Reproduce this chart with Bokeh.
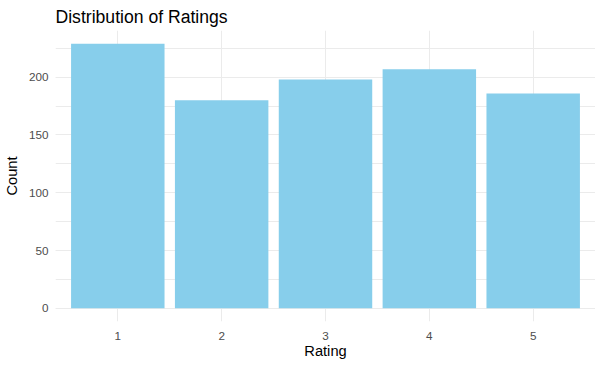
from bokeh.plotting import figure
from bokeh.models import Range1d, FixedTicker, SingleIntervalTicker, ColumnDataSource
from bokeh.embed import file_html
from bokeh.resources import INLINE

ratings = [1, 2, 3, 4, 5]
counts = [229, 180, 198, 207, 186]
tick_labels = {1: "1", 2: "2", 3: "3", 4: "4", 5: "5"}

FONT = "Liberation Sans"
source = ColumnDataSource(data=dict(rating=ratings, count=counts))

ymax = max(counts)
p = figure(width=595, height=361, output_backend="svg", toolbar_location=None,
           x_range=Range1d(0.4, 5.6), y_range=Range1d(-0.05 * ymax, ymax * 1.05),
           title="Distribution of Ratings",
           min_border_left=0, min_border_right=0, min_border_top=0, min_border_bottom=0)

p.vbar(x="rating", top="count", width=0.9, bottom=0, source=source,
       fill_color="#87CEEB", line_color=None)

p.outline_line_color = None
p.background_fill_color = "white"
p.border_fill_color = "white"

p.title.text_font = FONT
p.title.text_font_size = "17.6px"
p.title.text_font_style = "normal"
p.title.text_color = "black"
p.title.offset = 0
p.title.standoff = 8

p.xaxis.ticker = FixedTicker(ticks=ratings)
p.xaxis.major_label_overrides = tick_labels
p.yaxis.ticker = SingleIntervalTicker(interval=50, num_minor_ticks=2)

for ax in (p.xaxis[0], p.yaxis[0]):
    ax.axis_line_color = None
    ax.major_tick_line_color = None
    ax.minor_tick_line_color = None
    ax.major_tick_out = 0
    ax.major_tick_in = 0
    ax.minor_tick_out = 0
    ax.minor_tick_in = 0
    ax.major_label_text_font = FONT
    ax.major_label_text_font_size = "11.7px"
    ax.major_label_text_color = "#4D4D4D"
    ax.axis_label_text_font = FONT
    ax.axis_label_text_font_size = "14.67px"
    ax.axis_label_text_font_style = "normal"
    ax.axis_label_text_color = "black"

p.xaxis.axis_label = "Rating"
p.yaxis.axis_label = "Count"
p.xaxis.major_label_standoff = 10
p.yaxis.major_label_standoff = 7
p.xaxis.axis_label_standoff = 0
p.yaxis.axis_label_standoff = 6

p.xgrid.grid_line_color = "#EBEBEB"
p.xgrid.grid_line_width = 1
p.ygrid.grid_line_color = "#EBEBEB"
p.ygrid.grid_line_width = 1
p.ygrid.minor_grid_line_color = "#EBEBEB"
p.ygrid.minor_grid_line_width = 1

open("out.html", "w").write(file_html(p, INLINE))
